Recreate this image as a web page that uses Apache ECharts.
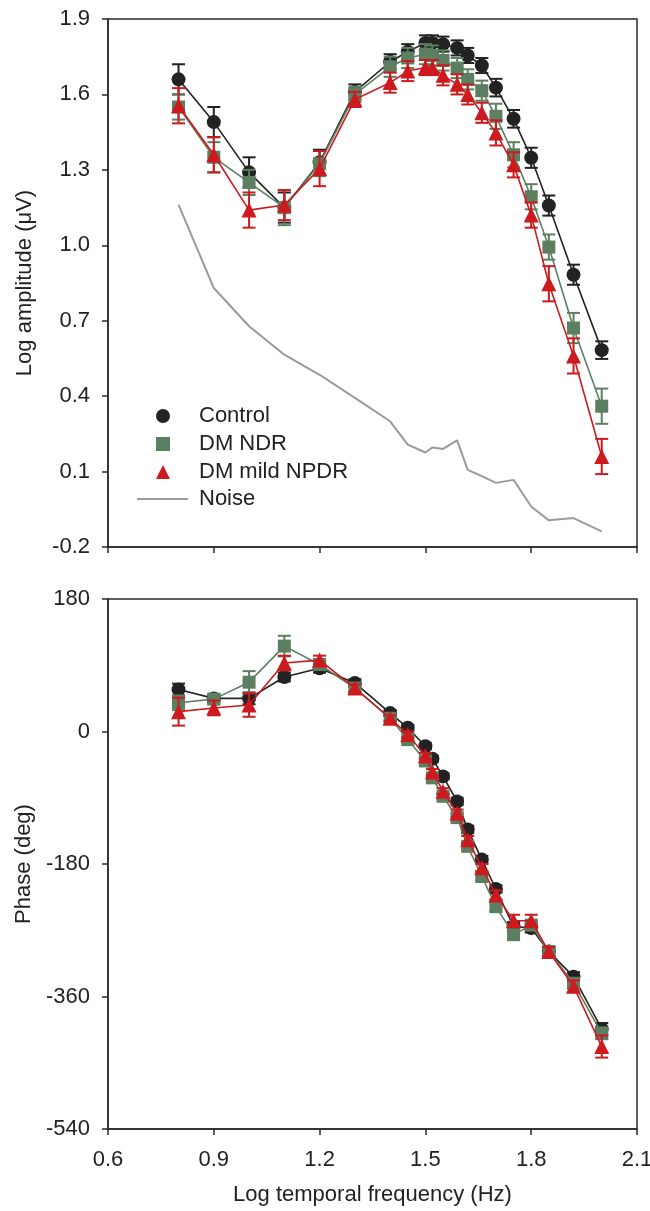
<!DOCTYPE html>
<html><head><meta charset="utf-8">
<script src="https://cdn.jsdelivr.net/npm/echarts@6/dist/echarts.min.js"></script>
<style>html,body{margin:0;padding:0;background:#fff}#c{width:650px;height:1211px}</style>
</head><body><div id="c"></div>
<script>
// ---- data ----
const freq = [0.8, 0.9, 1.0, 1.1, 1.2, 1.3, 1.4, 1.45, 1.5, 1.52, 1.55, 1.59, 1.62, 1.66, 1.70, 1.75, 1.80, 1.85, 1.92, 2.0];

const ampControl    = [1.66, 1.49, 1.29, 1.15, 1.33, 1.61, 1.73, 1.77, 1.805, 1.805, 1.80, 1.785, 1.755, 1.715, 1.627, 1.503, 1.348, 1.158, 0.883, 0.583];
const ampControlErr = [0.06, 0.06, 0.06, 0.06, 0.05, 0.03, 0.03, 0.03, 0.03, 0.03, 0.03, 0.03, 0.03, 0.03, 0.035, 0.035, 0.04, 0.04, 0.04, 0.035];
const ampNDR        = [1.55, 1.35, 1.25, 1.15, 1.325, 1.60, 1.71, 1.745, 1.76, 1.755, 1.735, 1.705, 1.66, 1.615, 1.513, 1.36, 1.193, 0.993, 0.671, 0.36];
const ampNDRErr     = [0.05, 0.06, 0.05, 0.07, 0.05, 0.03, 0.04, 0.04, 0.04, 0.04, 0.04, 0.04, 0.04, 0.04, 0.05, 0.05, 0.05, 0.05, 0.06, 0.07];
const ampNPDR       = [1.555, 1.36, 1.14, 1.16, 1.305, 1.58, 1.647, 1.693, 1.707, 1.707, 1.676, 1.64, 1.60, 1.527, 1.447, 1.32, 1.12, 0.847, 0.56, 0.16];
const ampNPDRErr    = [0.07, 0.07, 0.07, 0.06, 0.07, 0.03, 0.04, 0.04, 0.03, 0.03, 0.04, 0.04, 0.04, 0.04, 0.05, 0.05, 0.05, 0.07, 0.07, 0.07];
const ampNoise      = [1.162, 0.83, 0.678, 0.565, 0.485, 0.393, 0.30, 0.207, 0.176, 0.196, 0.19, 0.224, 0.107, 0.082, 0.055, 0.067, -0.039, -0.094, -0.085, -0.138];

const phControl     = [57, 45, 45, 74, 86, 66, 25, 5, -20, -37, -61, -95, -133, -174, -214, -265, -267, -299, -333, -404];
const phControlErr  = [8, 5, 8, 6, 6, 5, 4, 4, 4, 4, 4, 5, 5, 5, 5, 6, 6, 6, 6, 8];
const phNDR         = [39, 44, 67, 116, 91, 59, 18, -11, -40, -63, -88, -117, -156, -197, -238, -276, -263, -299, -342, -410];
const phNDRErr      = [10, 6, 15, 14, 6, 5, 4, 4, 4, 4, 4, 5, 5, 5, 6, 6, 6, 6, 6, 8];
const phNPDR        = [27, 32, 36, 93, 97, 59, 18, -4, -33, -55, -81, -111, -147, -185, -222, -257, -257, -299, -346, -428];
const phNPDRErr     = [19, 10, 16, 10, 6, 5, 4, 4, 4, 4, 4, 5, 5, 5, 6, 8, 8, 6, 8, 15];

const xTicks = {min: 0.6, max: 2.1, interval: 0.3};
const ampTicks = {min: -0.2, max: 1.9, interval: 0.3};
const phTicks = {min: -540, max: 180, interval: 180};

const names = ['Control', 'DM NDR', 'DM mild NPDR', 'Noise'];
const colors = {control: '#222222', ndr: '#5b7f60', npdr: '#cc1a1e', noise: '#9a9a9a'};

// ---- helpers ----
const FONT = '"Liberation Sans", Arial, sans-serif';
const FS = 22;
const pts = (xs, ys) => xs.map((x, i) => [x, ys[i]]);
const errs = (xs, ys, es) => xs.map((x, i) => [x, ys[i] - es[i], ys[i] + es[i]]);

function errSeries(id, gi, data, color, z) {
  return {
    type: 'custom', name: id, xAxisIndex: gi, yAxisIndex: gi, data: data, z: z, silent: true,
    encode: {x: 0, y: [1, 2]},
    renderItem: function (params, api) {
      const x = api.value(0);
      const top = api.coord([x, api.value(2)]);
      const bot = api.coord([x, api.value(1)]);
      const w = 6.5;
      const st = {stroke: color, lineWidth: 2};
      return {type: 'group', children: [
        {type: 'line', shape: {x1: top[0], y1: top[1], x2: bot[0], y2: bot[1]}, style: st},
        {type: 'line', shape: {x1: top[0] - w, y1: top[1], x2: top[0] + w, y2: top[1]}, style: st},
        {type: 'line', shape: {x1: bot[0] - w, y1: bot[1], x2: bot[0] + w, y2: bot[1]}, style: st}
      ]};
    }
  };
}
function lineSeries(name, gi, data, color, symbol, size, z) {
  return {
    type: 'line', name: name, xAxisIndex: gi, yAxisIndex: gi, data: data, z: z,
    symbol: symbol, symbolSize: size, showAllSymbol: true, showSymbol: symbol !== 'none',
    itemStyle: {color: color}, lineStyle: {color: color, width: symbol === 'none' ? 2 : 1.6},
    emphasis: {disabled: true}
  };
}

const axisLineStyle = {show: true, onZero: false, lineStyle: {color: '#2a2a2a', width: 1.5}};
const tickStyle = {show: true, inside: false, length: 6, lineStyle: {color: '#2a2a2a', width: 1.5}};
const labelStyle = {fontSize: FS, color: '#222', fontFamily: FONT};
const nameStyle = {fontSize: FS, color: '#222', fontFamily: FONT};

const legendText = (pad) => ({fontSize: FS, color: '#222', fontFamily: FONT, lineHeight: 22, padding: [0, 0, 0, pad]});

const option = {
  animation: false,
  backgroundColor: '#fff',
  grid: [
    {left: 108, right: 13, top: 19, height: 528, containLabel: false, outerBoundsMode: 'none',
     show: true, borderColor: '#2a2a2a', borderWidth: 1.5, backgroundColor: 'transparent'},
    {left: 108, right: 13, top: 599, height: 530, containLabel: false, outerBoundsMode: 'none',
     show: true, borderColor: '#2a2a2a', borderWidth: 1.5, backgroundColor: 'transparent'}
  ],
  xAxis: [
    {type: 'value', gridIndex: 0, min: xTicks.min, max: xTicks.max, interval: xTicks.interval,
     axisLine: axisLineStyle, axisTick: tickStyle, axisLabel: {show: false}, splitLine: {show: false}},
    {type: 'value', gridIndex: 1, min: xTicks.min, max: xTicks.max, interval: xTicks.interval,
     axisLine: axisLineStyle, axisTick: tickStyle, splitLine: {show: false},
     axisLabel: Object.assign({margin: 20, formatter: v => v.toFixed(1)}, labelStyle),
     name: 'Log temporal frequency (Hz)', nameLocation: 'middle', nameGap: 55, nameTextStyle: nameStyle}
  ],
  yAxis: [
    {type: 'value', gridIndex: 0, min: ampTicks.min, max: ampTicks.max, interval: ampTicks.interval,
     axisLine: axisLineStyle, axisTick: tickStyle, splitLine: {show: false},
     axisLabel: Object.assign({margin: 18, formatter: v => (Math.round(v * 10) / 10).toFixed(1)}, labelStyle),
     name: 'Log amplitude (μV)', nameLocation: 'middle', nameGap: 72, nameRotate: 90, nameTextStyle: nameStyle},
    {type: 'value', gridIndex: 1, min: phTicks.min, max: phTicks.max, interval: phTicks.interval,
     axisLine: axisLineStyle, axisTick: tickStyle, splitLine: {show: false},
     axisLabel: Object.assign({margin: 18, formatter: v => String(Math.round(v))}, labelStyle),
     name: 'Phase (deg)', nameLocation: 'middle', nameGap: 72, nameRotate: 90, nameTextStyle: nameStyle}
  ],
  legend: [
    {show: true, selectedMode: false, orient: 'vertical', left: 156, top: 405,
     itemWidth: 14, itemHeight: 14, itemGap: 6, padding: 0,
     textStyle: legendText(24),
     data: [
       {name: names[0], icon: 'circle'},
       {name: names[1], icon: 'rect'},
       {name: names[2], icon: 'triangle'}
     ]},
    {show: true, selectedMode: false, orient: 'vertical', left: 137, top: 488,
     itemWidth: 51, itemHeight: 2, itemGap: 6, padding: 0,
     textStyle: legendText(6),
     data: [{name: names[3], icon: 'rect'}]}
  ],
  series: [
    // amplitude panel
    lineSeries(names[3], 0, pts(freq, ampNoise), colors.noise, 'none', 0, 1),
    errSeries('e-c-a', 0, errs(freq, ampControl, ampControlErr), colors.control, 2),
    lineSeries(names[0], 0, pts(freq, ampControl), colors.control, 'circle', 14, 3),
    errSeries('e-n-a', 0, errs(freq, ampNDR, ampNDRErr), colors.ndr, 4),
    lineSeries(names[1], 0, pts(freq, ampNDR), colors.ndr, 'rect', 13, 5),
    errSeries('e-p-a', 0, errs(freq, ampNPDR, ampNPDRErr), colors.npdr, 6),
    lineSeries(names[2], 0, pts(freq, ampNPDR), colors.npdr, 'triangle', 15, 7),
    // phase panel
    errSeries('e-c-p', 1, errs(freq, phControl, phControlErr), colors.control, 2),
    lineSeries('Control-phase', 1, pts(freq, phControl), colors.control, 'circle', 14, 3),
    errSeries('e-n-p', 1, errs(freq, phNDR, phNDRErr), colors.ndr, 4),
    lineSeries('NDR-phase', 1, pts(freq, phNDR), colors.ndr, 'rect', 13, 5),
    errSeries('e-p-p', 1, errs(freq, phNPDR, phNPDRErr), colors.npdr, 6),
    lineSeries('NPDR-phase', 1, pts(freq, phNPDR), colors.npdr, 'triangle', 15, 7)
  ]
};

const chart = echarts.init(document.getElementById('c'));
chart.setOption(option);
</script>
</body></html>
